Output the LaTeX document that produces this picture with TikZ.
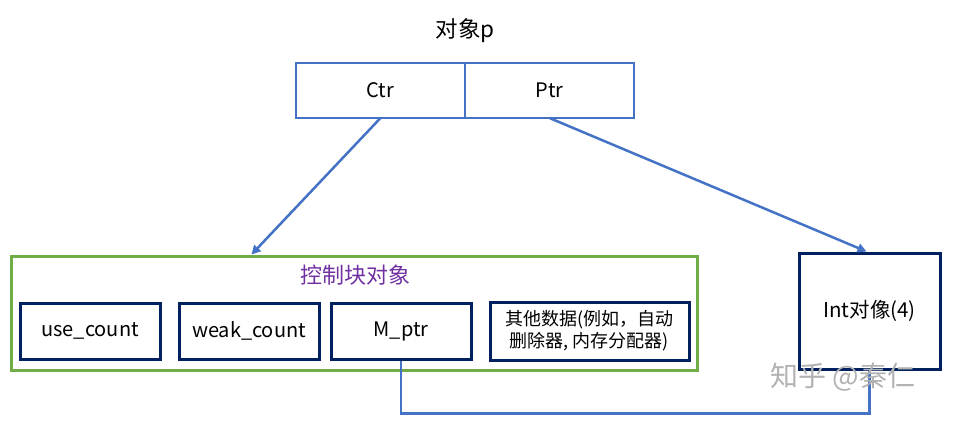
\documentclass[tikz,border=0pt]{standalone}
\usepackage{fontspec}
\setmainfont{Noto Sans CJK SC}
\usepackage{tikz}
\usetikzlibrary{arrows.meta, positioning}
\usepackage{xcolor}
\definecolor{linkblue}{HTML}{4472C4}
\definecolor{blockgreen}{HTML}{70AD47}
\definecolor{boxnavy}{HTML}{002060}
\definecolor{labelpurple}{HTML}{7030A0}

\begin{document}
\begin{tikzpicture}[x=1pt, y=-1pt,
    field/.style={draw=linkblue, line width=1.5pt, outer sep=0pt, minimum width=169pt, minimum height=55pt, font=\fontsize{20}{22}\selectfont},
    member/.style={draw=boxnavy, line width=3pt, minimum width=140pt, minimum height=56pt, font=\fontsize{20}{22}\selectfont},
    link/.style={draw=linkblue, line width=2.5pt, -{Triangle[length=9pt, width=9pt]}}]
            \useasboundingbox (0,0) rectangle (955,431);
            % Nodes
            \node[font=\fontsize{22.5}{24}\selectfont] (title) at (465,31) {对象p};
            \node[field] (ctr) at (380.5,90.5) {Ctr};
            \node[field, right=0pt of ctr] (ptr) {Ptr};
            \node[draw=blockgreen, line width=3pt, minimum width=686pt, minimum height=114pt] (block) at (354,313) {};
            \node[text=labelpurple, font=\fontsize{22}{24}\selectfont] (blocklabel) at (355,275) {控制块对象};
            \node[member] (usecount) at (90,331) {use\_count};
            \node[member] (weakcount) at (249,331) {weak\_count};
            \node[member] (mptr) at (401,331) {M\_ptr};
            \node[member, minimum width=199pt, minimum height=58pt, align=center, font=\fontsize{18}{22}\selectfont] (others) at (589.5,331) {其他数据(例如，自动\\删除器, 内存分配器)};
            \node[member, minimum width=141pt, minimum height=116pt, font=\fontsize{20.5}{22}\selectfont] (intobj) at (869.5,311) {Int对像(4)};
            % Arrows
            \draw[link] (ctr.south) -- ([xshift=242pt]block.north west);
            \draw[link] (ptr.south) -- ([xshift=-3pt]intobj.north);
            \draw[link, -] (mptr.south) -- ++(0,53) -| (intobj.south);
            \node[text=black!30, font=\fontsize{28}{30}\selectfont] (mark) at (843,377) {知乎 @秦仁};
        \end{tikzpicture}
\end{document}
